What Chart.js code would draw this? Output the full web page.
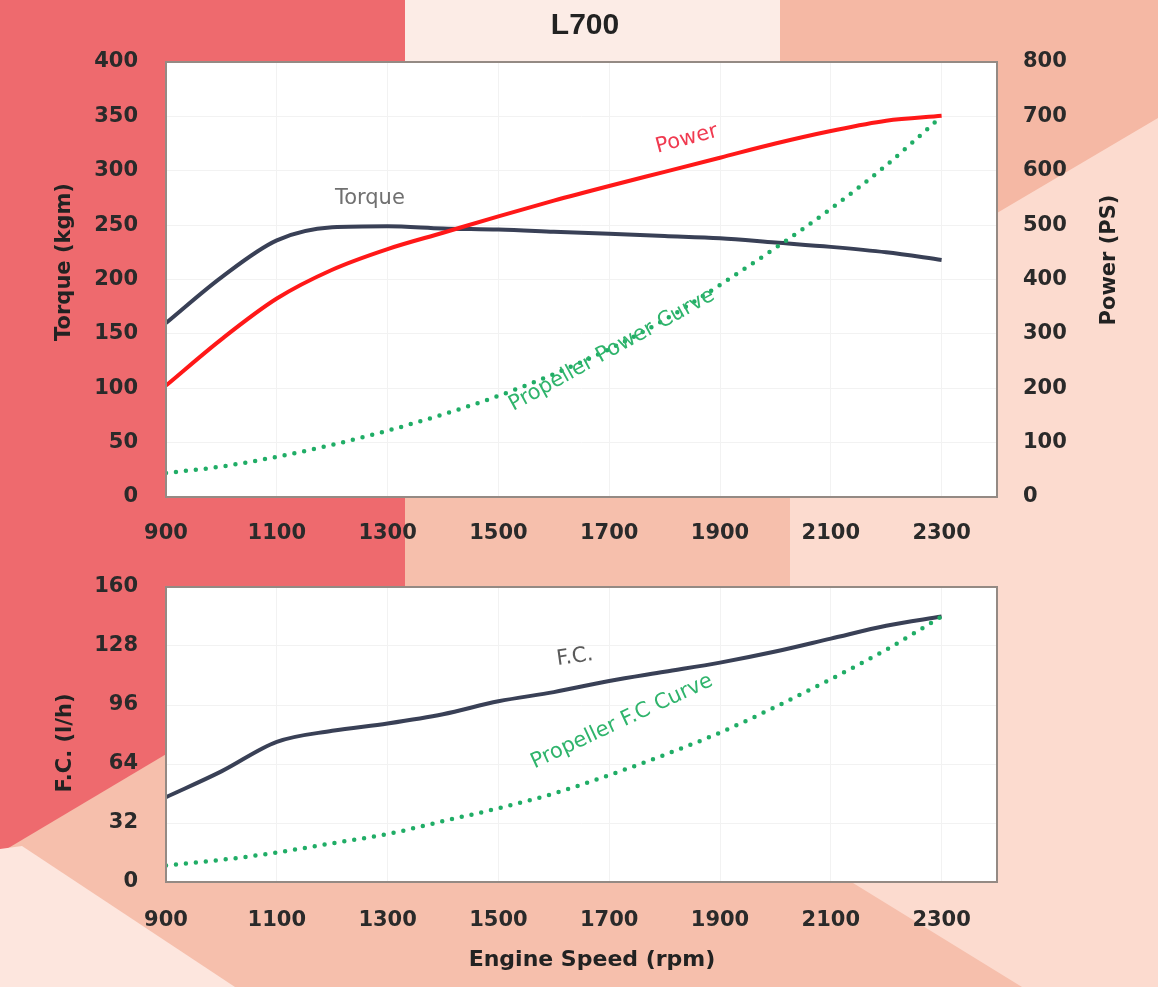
<!DOCTYPE html>
<html>
<head>
<meta charset="utf-8">
<script src="https://cdn.jsdelivr.net/npm/chart.js@4"></script>
<style>
html, body { margin: 0; padding: 0; }
body { width: 1158px; height: 987px; position: relative; overflow: hidden; }
canvas { position: absolute; left: 0; }
#bg { top: 0; }
#topChart { top: 0; }
#botChart { top: 560px; }
</style>
</head>
<body>
<canvas id="bg" width="1158" height="987"></canvas>
<canvas id="topChart" width="1158" height="560"></canvas>
<canvas id="botChart" width="1158" height="427"></canvas>
<script>
// engine speed (rpm)
const rpm = [900, 1000, 1100, 1200, 1300, 1400, 1500, 1600, 1700, 1800, 1900, 2000, 2100, 2200, 2300];
const xTicks = [900, 1100, 1300, 1500, 1700, 1900, 2100, 2300];

// top chart
const torque    = [160, 202, 236, 248, 249, 247, 246, 244, 242, 240, 238, 234, 230, 225, 218];
const power     = [205, 290, 365, 418, 456, 486, 516, 545, 572, 598, 624, 650, 673, 692, 701];
const propPower = [44, 56, 74, 96, 122, 152, 186, 226, 272, 326, 390, 458, 530, 610, 700];

// bottom chart
const fuel     = [46, 60, 76, 82, 86, 91, 98, 103, 109, 114, 119, 125, 132, 139, 144];
const propFuel = [9, 12, 16, 21, 26, 33, 40, 48, 58, 69, 81, 95, 110, 126, 144];

const navy = '#394056';
const red = '#ff1818';
const green = '#20ad66';
const tickFont = { family: 'DejaVu Sans', size: 21, weight: 'bold' };
const tickColor = '#2a2a2a';
const gridColor = '#f2f2f2';

// background shapes
const bg = document.getElementById('bg').getContext('2d');
function poly(color, pts) {
    bg.fillStyle = color;
    bg.beginPath();
    pts.forEach(([x, y], i) => i ? bg.lineTo(x, y) : bg.moveTo(x, y));
    bg.closePath();
    bg.fill();
}
poly('#fcdbcf', [[0, 0], [1158, 0], [1158, 987], [0, 987]]);
poly('#f6bfac', [[405, 480], [790, 480], [790, 882], [853, 883], [1022, 987], [233, 987], [0, 845], [0, 600], [405, 560]]);
poly('#ee6a6e', [[0, 0], [405, 0], [405, 612], [0, 853]]);
poly('#fde6de', [[0, 849], [22, 846], [235, 987], [0, 987]]);
poly('#fcece6', [[405, 0], [780, 0], [780, 100], [405, 100]]);
poly('#f5b8a4', [[780, 0], [1158, 0], [1158, 118], [997, 213], [997, 480], [780, 480]]);

function pts(ys) {
    return rpm.map((r, i) => ({ x: r, y: ys[i] }));
}

function drawText(ctx, txt, x, y, angle, font, color) {
    ctx.save();
    ctx.translate(x, y);
    ctx.rotate(angle * Math.PI / 180);
    ctx.font = font;
    ctx.fillStyle = color;
    ctx.textAlign = 'center';
    ctx.textBaseline = 'middle';
    ctx.fillText(txt, 0, 0);
    ctx.restore();
}

const plotBox = {
    id: 'plotBox',
    beforeDraw(chart) {
        const a = chart.chartArea, ctx = chart.ctx;
        ctx.save();
        ctx.fillStyle = '#ffffff';
        ctx.fillRect(a.left, a.top, a.right - a.left, a.bottom - a.top);
        ctx.restore();
    },
    afterDraw(chart) {
        const a = chart.chartArea, ctx = chart.ctx;
        ctx.save();
        ctx.strokeStyle = '#948a84';
        ctx.lineWidth = 2;
        ctx.strokeRect(a.left, a.top, a.right - a.left, a.bottom - a.top);
        ctx.restore();
    }
};

function fixY(width) {
    return (scale) => {
        scale.width = width;
        scale.paddingTop = 0;
        scale.paddingBottom = 0;
    };
}

const xScale = (height, pad) => ({
    type: 'linear',
    min: 900,
    max: 2400,
    afterBuildTicks: (axis) => { axis.ticks = xTicks.map(v => ({ value: v })); },
    afterFit: (scale) => { scale.height = height; },
    grid: { color: gridColor, drawTicks: false },
    border: { display: false },
    ticks: { font: tickFont, color: tickColor, padding: pad, maxRotation: 0, autoSkip: false,
             callback: (v) => String(v) }
});

const labelFont = '21px "DejaVu Sans"';
const titleFont = 'bold 21px "DejaVu Sans"';

const topLabels = {
    id: 'topLabels',
    afterDraw(chart) {
        const ctx = chart.ctx, s = chart.scales;
        drawText(ctx, 'Torque', s.x.getPixelForValue(1268), s.yT.getPixelForValue(274), 0, labelFont, '#707070');
        drawText(ctx, 'Power', s.x.getPixelForValue(1840), s.yP.getPixelForValue(658), -15, labelFont, '#f03a50');
        drawText(ctx, 'Propeller Power Curve', s.x.getPixelForValue(1705), s.yP.getPixelForValue(270), -29, labelFont, '#2fb46c');
        drawText(ctx, 'Torque (kgm)', 65, 262, -90, titleFont, '#222');
        drawText(ctx, 'Power (PS)', 1110, 260, -90, titleFont, '#222');
        drawText(ctx, 'L700', 585, 26, 0, 'bold 30px "Liberation Sans"', '#222');
    }
};

new Chart(document.getElementById('topChart'), {
    type: 'line',
    data: {
        datasets: [
            {
                label: 'Torque',
                data: pts(torque),
                yAxisID: 'yT',
                borderColor: navy,
                borderWidth: 4,
                pointRadius: 0,
                cubicInterpolationMode: 'monotone',
                order: 3
            },
            {
                label: 'Power',
                data: pts(power),
                yAxisID: 'yP',
                borderColor: red,
                borderWidth: 4,
                pointRadius: 0,
                cubicInterpolationMode: 'monotone',
                order: 2
            },
            {
                label: 'Propeller Power Curve',
                data: pts(propPower),
                yAxisID: 'yP',
                borderColor: green,
                borderWidth: 4.5,
                borderDash: [0, 10],
                borderCapStyle: 'round',
                pointRadius: 0,
                cubicInterpolationMode: 'monotone',
                order: 1
            }
        ]
    },
    options: {
        responsive: false,
        animation: false,
        layout: { padding: { top: 62, left: 0, right: 0, bottom: 0 } },
        plugins: { legend: { display: false }, tooltip: { enabled: false } },
        scales: {
            x: xScale(63, 24),
            yT: {
                position: 'left',
                min: 0,
                max: 400,
                afterFit: fixY(166),
                grid: { color: gridColor, drawTicks: false },
                border: { display: false },
                ticks: { stepSize: 50, font: tickFont, color: tickColor, padding: 28 }
            },
            yP: {
                position: 'right',
                min: 0,
                max: 800,
                afterFit: fixY(161),
                grid: { drawOnChartArea: false, drawTicks: false },
                border: { display: false },
                ticks: { stepSize: 100, font: tickFont, color: tickColor, padding: 26 }
            }
        }
    },
    plugins: [plotBox, topLabels]
});

const botLabels = {
    id: 'botLabels',
    afterDraw(chart) {
        const ctx = chart.ctx, s = chart.scales;
        drawText(ctx, 'F.C.', s.x.getPixelForValue(1638), s.y.getPixelForValue(122), -8, labelFont, '#5a5a5a');
        drawText(ctx, 'Propeller F.C Curve', s.x.getPixelForValue(1723), s.y.getPixelForValue(87), -25, labelFont, '#2fb46c');
        drawText(ctx, 'F.C. (l/h)', 66, 183, -90, titleFont, '#222');
        drawText(ctx, 'Engine Speed (rpm)', 592, 400, 0, 'bold 22px "DejaVu Sans"', '#222');
    }
};

new Chart(document.getElementById('botChart'), {
    type: 'line',
    data: {
        datasets: [
            {
                label: 'F.C.',
                data: pts(fuel),
                borderColor: navy,
                borderWidth: 4,
                pointRadius: 0,
                cubicInterpolationMode: 'monotone',
                order: 2
            },
            {
                label: 'Propeller F.C Curve',
                data: pts(propFuel),
                borderColor: green,
                borderWidth: 4.5,
                borderDash: [0, 10],
                borderCapStyle: 'round',
                pointRadius: 0,
                cubicInterpolationMode: 'monotone',
                order: 1
            }
        ]
    },
    options: {
        responsive: false,
        animation: false,
        layout: { padding: { top: 27, left: 0, right: 161, bottom: 0 } },
        plugins: { legend: { display: false }, tooltip: { enabled: false } },
        scales: {
            x: xScale(105, 26),
            y: {
                position: 'left',
                min: 0,
                max: 160,
                afterFit: fixY(166),
                grid: { color: gridColor, drawTicks: false },
                border: { display: false },
                ticks: { stepSize: 32, font: tickFont, color: tickColor, padding: 28 }
            }
        }
    },
    plugins: [plotBox, botLabels]
});
</script>
</body>
</html>
